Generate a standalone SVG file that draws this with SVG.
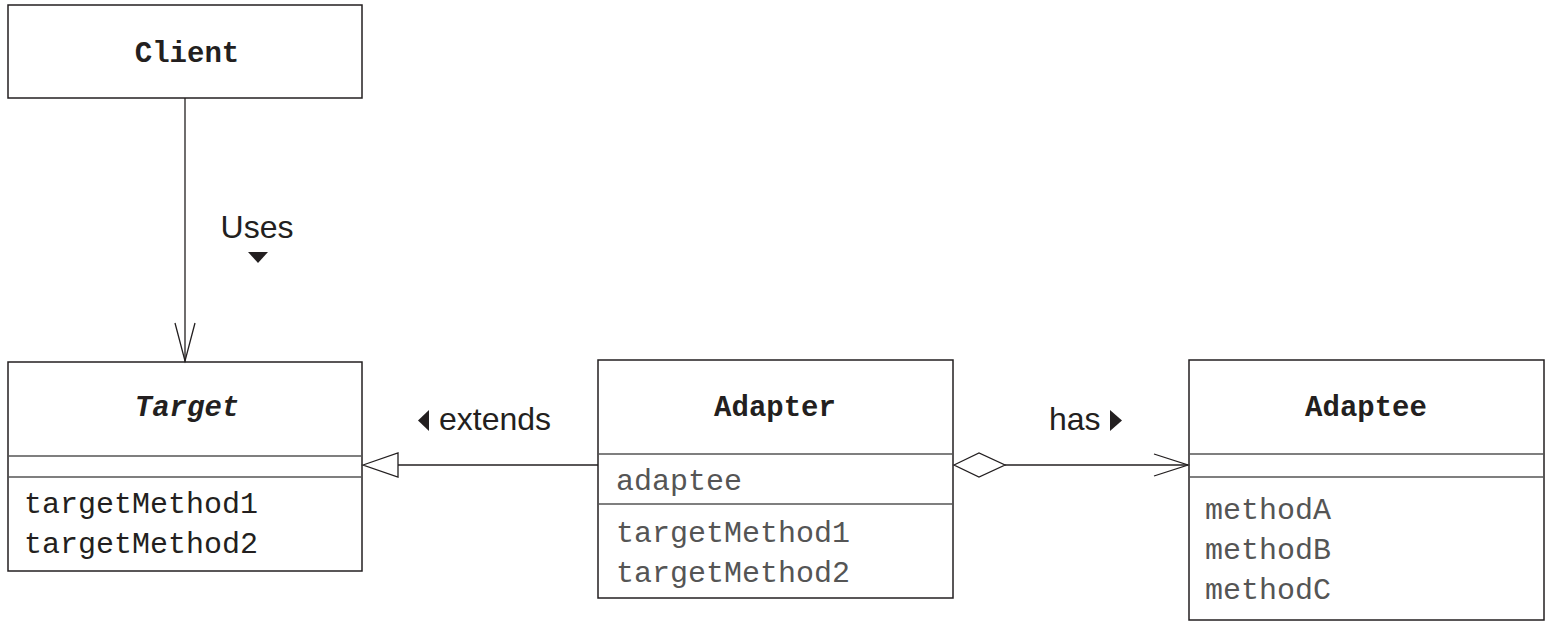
<svg xmlns="http://www.w3.org/2000/svg" width="1552" height="624" viewBox="0 0 1552 624">
<style>
.box{fill:#fff;stroke:#231f20;stroke-width:1.5}
.div{stroke:#555;stroke-width:1.5}
.title{font-family:"Liberation Mono","Courier New",monospace;font-weight:bold;font-size:29px;fill:#231f20;text-anchor:middle}
.m{font-family:"Liberation Mono","Courier New",monospace;font-size:30px;fill:#231f20}
.mg{font-family:"Liberation Mono","Courier New",monospace;font-size:30px;fill:#555}
.lbl{font-family:"Liberation Sans",Arial,sans-serif;font-size:32px;fill:#231f20}
.ln{stroke:#231f20;stroke-width:1.3;fill:none}
</style>
<rect width="1552" height="624" fill="#fff"/>
<g id="client">
<rect class="box" x="8" y="5" width="354" height="93"/>
<text class="title" x="187" y="62">Client</text>
</g>
<g id="target">
<rect class="box" x="8" y="362" width="354" height="209"/>
<line class="div" x1="8" y1="456" x2="362" y2="456"/>
<line class="div" x1="8" y1="477" x2="362" y2="477"/>
<text class="title" x="187" y="416" font-style="italic">Target</text>
<text class="m" x="24" y="513">targetMethod1</text>
<text class="m" x="24" y="553">targetMethod2</text>
</g>
<g id="adapter">
<rect class="box" x="598" y="360" width="355" height="238"/>
<line class="div" x1="598" y1="454" x2="953" y2="454"/>
<line class="div" x1="598" y1="504" x2="953" y2="504"/>
<text class="title" x="775" y="416">Adapter</text>
<text class="mg" x="616" y="490">adaptee</text>
<text class="mg" x="616" y="542">targetMethod1</text>
<text class="mg" x="616" y="582">targetMethod2</text>
</g>
<g id="adaptee">
<rect class="box" x="1189" y="360" width="355" height="260"/>
<line class="div" x1="1189" y1="454" x2="1544" y2="454"/>
<line class="div" x1="1189" y1="477" x2="1544" y2="477"/>
<text class="title" x="1366" y="416">Adaptee</text>
<text class="mg" x="1205" y="519">methodA</text>
<text class="mg" x="1205" y="559">methodB</text>
<text class="mg" x="1205" y="599">methodC</text>
</g>
<g id="connectors">
<line class="ln" x1="185" y1="98" x2="185" y2="362"/>
<polyline class="ln" points="175,323 185,361 195,323"/>
<text class="lbl" x="257" y="238" text-anchor="middle">Uses</text>
<polygon points="248,252 268,252 258,263" fill="#231f20"/>
<line class="ln" x1="398" y1="465" x2="598" y2="465"/>
<polygon class="ln" points="363,465 398,453 398,477"/>
<polygon points="429,410 429,431 418,420.5" fill="#231f20"/>
<text class="lbl" x="439" y="430">extends</text>
<polygon class="ln" points="954,465 979,453 1005,465 979,477"/>
<line class="ln" x1="1005" y1="465" x2="1188" y2="465"/>
<polyline class="ln" points="1154,454 1188,465 1154,476"/>
<text class="lbl" x="1049" y="430">has</text>
<polygon points="1110,410 1110,431 1122,420.5" fill="#231f20"/>
</g>
</svg>
